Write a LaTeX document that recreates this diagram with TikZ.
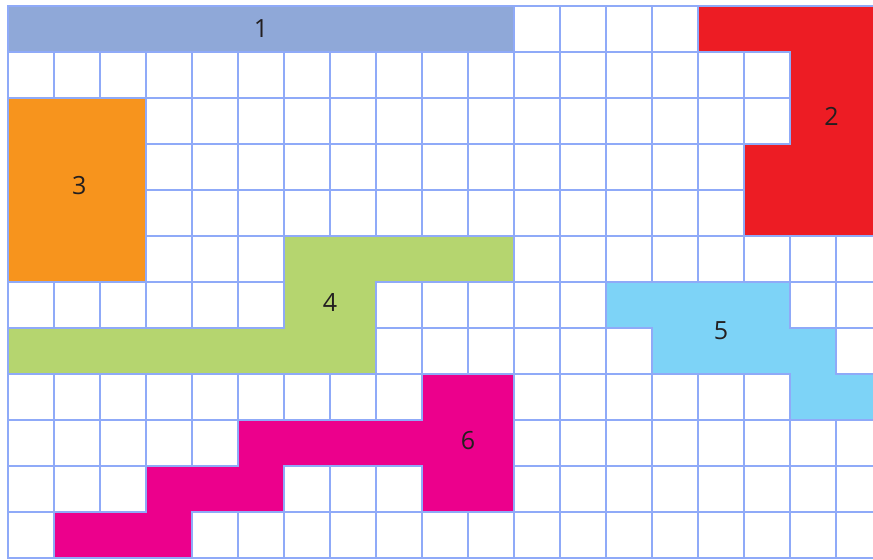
\documentclass[tikz,border=0pt]{standalone}
\usepackage{fontspec}
\setmainfont{Open Sans}
\usepackage{tikz}
\definecolor{gridblue}{HTML}{8FAAF8}
\definecolor{slate}{HTML}{8FA8D8}
\definecolor{redp}{HTML}{ED1C24}
\definecolor{orangep}{HTML}{F7941D}
\definecolor{greenp}{HTML}{B5D56F}
\definecolor{skyp}{HTML}{7DD3F7}
\definecolor{magp}{HTML}{EC008C}
\definecolor{ink}{HTML}{231F20}
\tikzset{gridline/.style={draw=gridblue,line width=1.4pt,line cap=rect},
         piece/.style={draw=gridblue,line width=1.2pt,line join=miter},
         lbl/.style={text=ink,font=\fontsize{15.5}{18}\selectfont,inner sep=0pt}}

\begin{document}
\begin{tikzpicture}
 \clip (-0.174,0.130) rectangle (18.804,-12.043);
 \fill[white] (-0.174,0.130) rectangle (18.804,-12.043);
 \draw[gridline] (0,-12) grid (18.9,0);
 % pieces
 \filldraw[piece,fill=slate] (0,0) rectangle (11,-1);
 \filldraw[piece,fill=redp] (15,0) -- (19,0) -- (19,-5) -- (16,-5) -- (16,-3) -- (17,-3) -- (17,-1) -- (15,-1) -- cycle;
 \filldraw[piece,fill=orangep] (0,-2) rectangle (3,-6);
 \filldraw[piece,fill=greenp] (6,-5) -- (11,-5) -- (11,-6) -- (8,-6) -- (8,-8) -- (0,-8) -- (0,-7) -- (6,-7) -- cycle;
 \filldraw[piece,fill=skyp] (13,-6) -- (17,-6) -- (17,-7) -- (18,-7) -- (18,-8) -- (19,-8) -- (19,-9) -- (17,-9) -- (17,-8) -- (14,-8) -- (14,-7) -- (13,-7) -- cycle;
 \filldraw[piece,fill=magp] (9,-8) -- (11,-8) -- (11,-11) -- (9,-11) -- (9,-10) -- (6,-10) -- (6,-11) -- (4,-11) -- (4,-12) -- (1,-12) -- (1,-11) -- (3,-11) -- (3,-10) -- (5,-10) -- (5,-9) -- (9,-9) -- cycle;
 % labels
 \node[lbl] (p1) at (5.5,-0.5) {1};
 \node[lbl] (p2) at (17.9,-2.4) {2};
 \node[lbl] (p3) at (1.55,-3.9) {3};
 \node[lbl] (p4) at (7,-6.45) {4};
 \node[lbl] (p5) at (15.5,-7.05) {5};
 \node[lbl] (p6) at (10,-9.45) {6};
\end{tikzpicture}
\end{document}
